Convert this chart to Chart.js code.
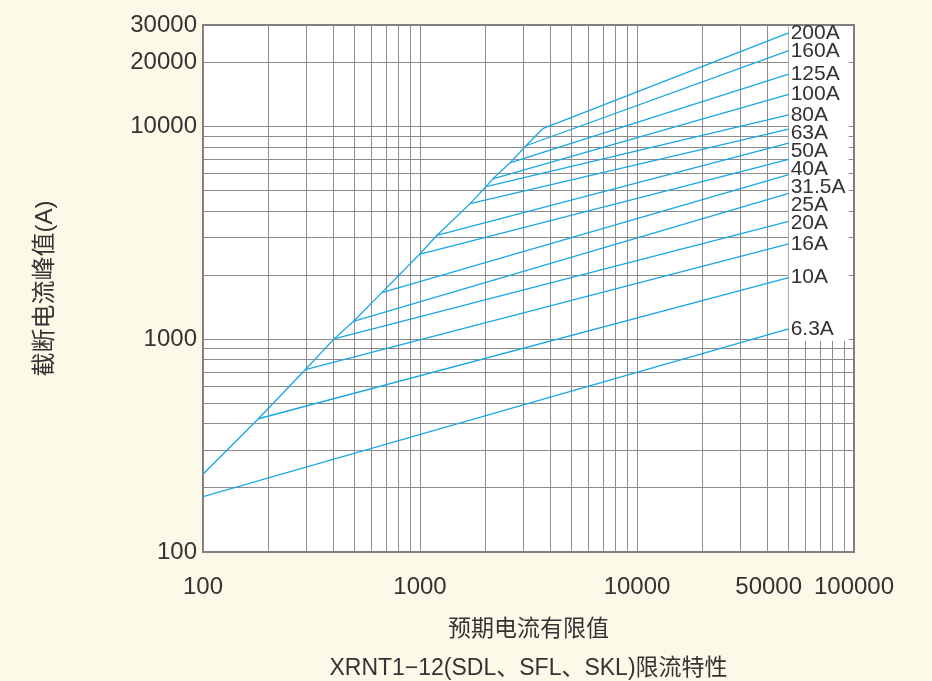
<!DOCTYPE html>
<html lang="zh">
<head>
<meta charset="utf-8">
<title>XRNT1-12 限流特性</title>
<script src="https://cdn.jsdelivr.net/npm/chart.js@4.4.1/dist/chart.umd.min.js"></script>
<style>
    html, body { margin: 0; padding: 0; background: #fdf9e8; }
    #wrap { width: 932px; height: 681px; }
</style>
</head>
<body>
<div id="wrap"><canvas id="chart" width="932" height="681"></canvas></div>
<script>
// Fuse ratings, one cut-off line each (smallest first)
const ratings = ['6.3A', '10A', '16A', '20A', '25A', '31.5A', '40A', '50A', '63A', '80A', '100A', '125A', '160A', '200A'];

// Point where each line leaves the envelope: prospective current (A) and cut-off peak (A)
const startCurrent = [100, 180, 296, 402, 493, 667, 993, 1195, 1701, 2016, 2164, 2599, 3079, 3676];
const startPeak = [182, 423, 719, 1004, 1212, 1657, 2504, 3076, 4340, 5221, 5675, 6750, 8120, 9763];

// Every line runs out to 50 kA
const endCurrent = [50000, 50000, 50000, 50000, 50000, 50000, 50000, 50000, 50000, 50000, 50000, 50000, 50000, 50000];
const endPeak = [1118, 1950, 2810, 3586, 4853, 5934, 7015, 8350, 9723, 11330, 14140, 17650, 22760, 27580];

// Unlimited (no fuse) envelope up to the 200A knee
const envelopeCurrent = [100, 180, 296, 402, 493, 667, 993, 1195, 1701, 2016, 2164, 2599, 3079, 3676];
const envelopePeak = [232, 423, 719, 1004, 1212, 1657, 2504, 3076, 4340, 5221, 5675, 6750, 8120, 9763];

// Axis labels that are printed
const xTickLabels = [100, 1000, 10000, 50000, 100000];
const yTickLabels = [100, 1000, 10000, 20000, 30000];

// Grid lines: 1..9 per decade
const xGrid = [];
[100, 1000, 10000].forEach(d => { for (let m = 1; m < 10; m++) xGrid.push(m * d); });
xGrid.push(100000);
const yGrid = [];
[100, 1000].forEach(d => { for (let m = 1; m < 10; m++) yGrid.push(m * d); });
yGrid.push(10000, 20000, 30000);

const lineColor = '#1aa6e4';
const textColor = '#333333';
const gridColor = '#8c8c8c';
const fontFamily = "'Liberation Sans', 'Noto Sans CJK SC', Arial, sans-serif";

// Datasets: envelope + one line per rating
const datasets = [{
    label: 'envelope',
    data: envelopeCurrent.map((c, i) => ({ x: c, y: envelopePeak[i] }))
}];
ratings.forEach((r, i) => {
    datasets.push({
        label: r,
        data: [
            { x: startCurrent[i], y: startPeak[i] },
            { x: endCurrent[i], y: endPeak[i] }
        ]
    });
});
datasets.forEach(ds => {
    ds.showLine = true;
    ds.borderColor = lineColor;
    ds.borderWidth = 1.3;
    ds.pointRadius = 0;
    ds.fill = false;
});

// Cream page, white plot area, frame, and the white box holding the rating labels
const paperPlugin = {
    id: 'paper',
    beforeDraw(chart) {
        const { ctx, chartArea: a } = chart;
        ctx.save();
        ctx.fillStyle = '#fdf9e8';
        ctx.fillRect(0, 0, chart.width, chart.height);
        ctx.fillStyle = '#ffffff';
        ctx.fillRect(a.left, a.top, a.right - a.left, a.bottom - a.top);
        ctx.restore();
    },
    beforeDatasetsDraw(chart) {
        const { ctx, chartArea: a } = chart;
        ctx.save();
        ctx.strokeStyle = '#808080';
        ctx.lineWidth = 2;
        ctx.strokeRect(a.left, a.top, a.right - a.left, a.bottom - a.top);

        const box = labelLayout(chart);
        ctx.fillStyle = '#ffffff';
        ctx.fillRect(box.left, a.top + 1, box.width, box.bottom - a.top - 1);
        ctx.restore();
    },
    afterDatasetsDraw(chart) {
        const { ctx } = chart;
        const box = labelLayout(chart);
        ctx.save();
        ctx.font = '21px ' + fontFamily;
        ctx.fillStyle = textColor;
        ctx.textAlign = 'left';
        ctx.textBaseline = 'middle';
        box.items.forEach(it => ctx.fillText(it.text, box.left + 2, it.y));
        ctx.restore();
    }
};

// Labels sit at the end of their line, pushed down so they never overlap
function labelLayout(chart) {
    const { ctx } = chart;
    const xs = chart.scales.x, ys = chart.scales.y;
    ctx.save();
    ctx.font = '21px ' + fontFamily;
    let prev = -Infinity, maxW = 0;
    const items = [];
    for (let i = ratings.length - 1; i >= 0; i--) {
        const y = Math.max(ys.getPixelForValue(endPeak[i]), prev + 18);
        items.push({ text: ratings[i], y: y });
        maxW = Math.max(maxW, ctx.measureText(ratings[i]).width);
        prev = y;
    }
    ctx.restore();
    const left = xs.getPixelForValue(Math.max(...endCurrent));
    return { left: left, width: maxW + 5, bottom: prev + 12, items: items };
}

new Chart(document.getElementById('chart'), {
    type: 'scatter',
    data: { datasets: datasets },
    options: {
        responsive: false,
        animation: false,
        devicePixelRatio: 1,
        layout: { padding: { left: 20, right: 78, top: 25, bottom: 0 } },
        plugins: {
            legend: { display: false },
            tooltip: { enabled: false }
        },
        scales: {
            x: {
                type: 'logarithmic',
                min: 100,
                max: 100000,
                afterBuildTicks: s => { s.ticks = xGrid.map(v => ({ value: v })); },
                afterFit: s => { s.height = 129; },
                ticks: {
                    autoSkip: false,
                    maxRotation: 0,
                    padding: 21,
                    color: textColor,
                    font: { family: fontFamily, size: 24 },
                    callback: v => {
                        if (!xTickLabels.includes(v)) return '';
                        // keep 50000 clear of 100000
                        return v === 50000 ? String(v) + '      ' : String(v);
                    }
                },
                grid: { color: gridColor, lineWidth: 1, drawTicks: false },
                border: { color: '#707070', width: 2 },
                title: {
                    display: true,
                    text: ['预期电流有限值', 'XRNT1−12(SDL、SFL、SKL)限流特性'],
                    color: textColor,
                    font: { family: fontFamily, size: 23, lineHeight: 1.7 },
                    padding: { top: 0, bottom: -7 }
                }
            },
            y: {
                type: 'logarithmic',
                min: 100,
                max: 30000,
                afterBuildTicks: s => { s.ticks = yGrid.map(v => ({ value: v })); },
                afterFit: s => { s.width = 183; },
                ticks: {
                    autoSkip: false,
                    padding: 6,
                    color: textColor,
                    font: { family: fontFamily, size: 24 },
                    callback: v => yTickLabels.includes(v) ? String(v) : ''
                },
                grid: { color: gridColor, lineWidth: 1, drawTicks: false },
                border: { color: '#707070', width: 2 },
                title: {
                    display: true,
                    text: '截断电流峰值(A)',
                    color: textColor,
                    font: { family: fontFamily, size: 24 },
                    padding: { top: 11, bottom: 0 }
                }
            }
        }
    },
    plugins: [paperPlugin]
});
</script>
</body>
</html>
